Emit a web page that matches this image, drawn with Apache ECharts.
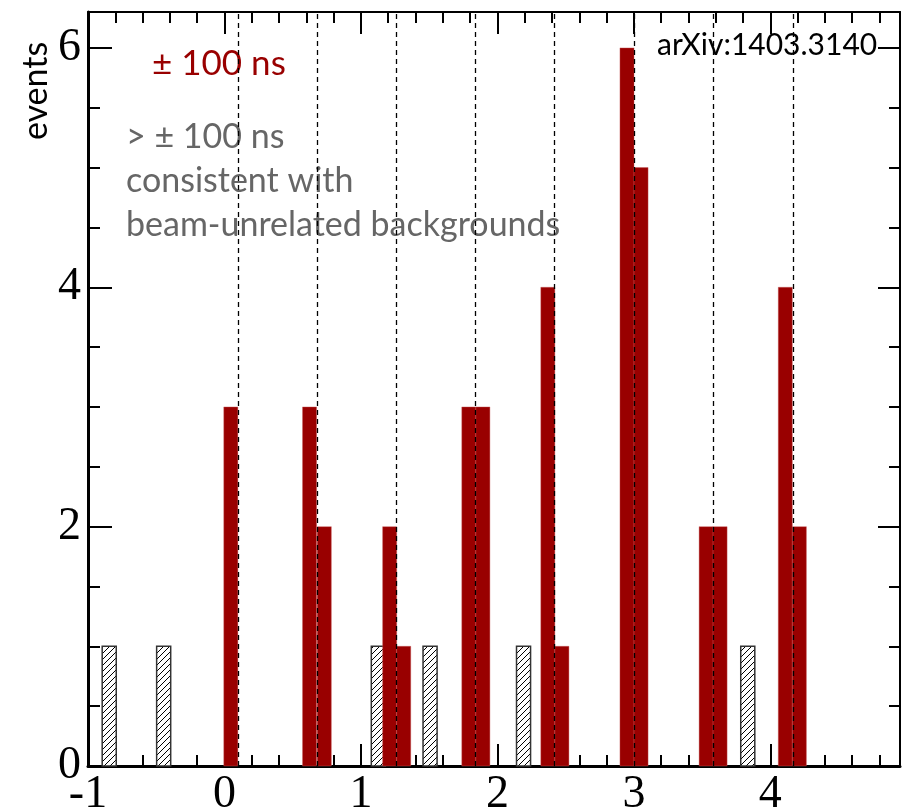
<!DOCTYPE html>
<html>
<head>
<meta charset="utf-8">
<script src="https://cdn.jsdelivr.net/npm/echarts@6/dist/echarts.min.js"></script>
<style>
  html, body { margin: 0; padding: 0; background: #fff; }
  #chart { width: 908px; height: 810px; }
</style>
</head>
<body>
<div id="chart"></div>
<script>
// bunch arrival times (dashed lines)
const bunchTimes = [0.098, 0.679, 1.26, 1.841, 2.422, 3.003, 3.584, 4.165];
const binWidth = 0.103;
// events within +-100 ns of a bunch
const inTimeStart = [-0.005, 0.572, 0.68, 1.159, 1.262, 1.739, 1.842, 2.318, 2.421, 2.898, 3.001, 3.478, 3.58, 4.058, 4.161];
const inTimeCounts = [3, 3, 2, 2, 1, 3, 3, 4, 1, 6, 5, 2, 2, 4, 2];
// events outside +-100 ns
const outTimeStart = [-0.896, -0.497, 1.076, 1.455, 2.14, 3.783];
const outTimeCounts = [1, 1, 1, 1, 1, 1];

const xMin = -1, xMax = 4.95, yMin = 0, yMax = 6.3;

// hatch pattern for out-of-time bins
function hatch() {
  const c = document.createElement('canvas');
  const s = 6;
  c.width = s; c.height = s;
  const g = c.getContext('2d');
  g.fillStyle = '#fff';
  g.fillRect(0, 0, s, s);
  g.strokeStyle = '#000';
  g.lineWidth = 1;
  g.beginPath();
  g.moveTo(-1, s + 1); g.lineTo(s + 1, -1);
  g.moveTo(-1, 1); g.lineTo(1, -1);
  g.moveTo(s - 1, s + 1); g.lineTo(s + 1, s - 1);
  g.stroke();
  return c;
}

function binItem(style) {
  return function (params, api) {
    const x0 = api.value(0), h = api.value(1);
    const p0 = api.coord([x0, 0]);
    const p1 = api.coord([x0 + binWidth, h]);
    return {
      type: 'rect',
      shape: { x: p0[0], y: p1[1], width: p1[0] - p0[0], height: p0[1] - p1[1] },
      style: style
    };
  };
}

const serif = '"Liberation Serif", "DejaVu Serif", serif';
const sans = 'Lato, "Open Sans", sans-serif';

function xAx(pos, interval, tickLen, showLabel, lineW) {
  return {
    type: 'value', position: pos, min: xMin, max: xMax, interval: interval,
    axisLine: { show: lineW > 0, onZero: false, lineStyle: { color: '#000', width: lineW } },
    axisTick: { show: true, inside: true, length: tickLen, lineStyle: { color: '#000', width: 2 } },
    axisLabel: { show: showLabel, showMaxLabel: false, margin: 6, fontSize: 46, fontFamily: serif, color: '#000' },
    splitLine: { show: false }
  };
}
function yAx(pos, interval, tickLen, showLabel, lineW) {
  return {
    type: 'value', position: pos, min: yMin, max: yMax, interval: interval,
    axisLine: { show: lineW > 0, onZero: false, lineStyle: { color: '#000', width: lineW } },
    axisTick: { show: true, inside: true, length: tickLen, lineStyle: { color: '#000', width: 2 } },
    axisLabel: { show: showLabel, showMaxLabel: false, margin: 7, fontSize: 46, fontFamily: serif, color: '#000' },
    splitLine: { show: false }
  };
}

const chart = echarts.init(document.getElementById('chart'), null, { renderer: 'canvas' });

chart.setOption({
  animation: false,
  backgroundColor: '#fff',
  grid: { left: 88, right: 8, top: 12, bottom: 44, containLabel: false, outerBoundsMode: 'none' },
  xAxis: [
    xAx('bottom', 1, 22, true, 3),
    xAx('bottom', 0.2, 11, false, 0),
    xAx('top', 1, 22, false, 2),
    xAx('top', 0.2, 11, false, 0)
  ],
  yAxis: [
    yAx('left', 2, 24, true, 3),
    yAx('left', 0.5, 12, false, 0),
    yAx('right', 2, 22, false, 2),
    yAx('right', 0.5, 11, false, 0)
  ],
  series: [
    {
      type: 'custom',
      name: 'out of time',
      renderItem: binItem({ fill: { image: hatch(), repeat: 'repeat' }, stroke: '#333', lineWidth: 1.5 }),
      data: outTimeStart.map((x, i) => [x, outTimeCounts[i]]),
      z: 2
    },
    {
      type: 'custom',
      name: 'in time',
      renderItem: binItem({ fill: '#990000', stroke: 'rgba(200,90,90,0.5)', lineWidth: 0.8 }),
      data: inTimeStart.map((x, i) => [x, inTimeCounts[i]]),
      z: 3,
      markLine: {
        silent: true,
        symbol: ['none', 'none'],
        label: { show: false },
        lineStyle: { color: '#000', width: 1.3, type: [5, 4] },
        data: bunchTimes.map(t => ({ xAxis: t })),
        z: 5
      }
    }
  ],
  graphic: [
    { type: 'text', x: 36, y: 91, rotation: Math.PI / 2,
      style: { text: 'events', font: '34px ' + sans, fill: '#000', align: 'center', verticalAlign: 'middle' } },
    { type: 'text', x: 152, y: 64,
      style: { text: '± 100 ns', font: '35px ' + sans, fill: '#990000', align: 'left', verticalAlign: 'middle' } },
    { type: 'text', x: 126, y: 137,
      style: { text: '> ± 100 ns', font: '34px ' + sans, fill: '#666', align: 'left', verticalAlign: 'middle' } },
    { type: 'text', x: 126, y: 181,
      style: { text: 'consistent with', font: '34px ' + sans, fill: '#666', align: 'left', verticalAlign: 'middle' } },
    { type: 'text', x: 126, y: 225,
      style: { text: 'beam-unrelated backgrounds', font: '34px ' + sans, fill: '#666', align: 'left', verticalAlign: 'middle' } },
    { type: 'text', x: 657, y: 45,
      style: { text: 'arXiv:1403.3140', font: '30px ' + sans, fill: '#000', align: 'left', verticalAlign: 'middle' } }
  ]
});
</script>
</body>
</html>
